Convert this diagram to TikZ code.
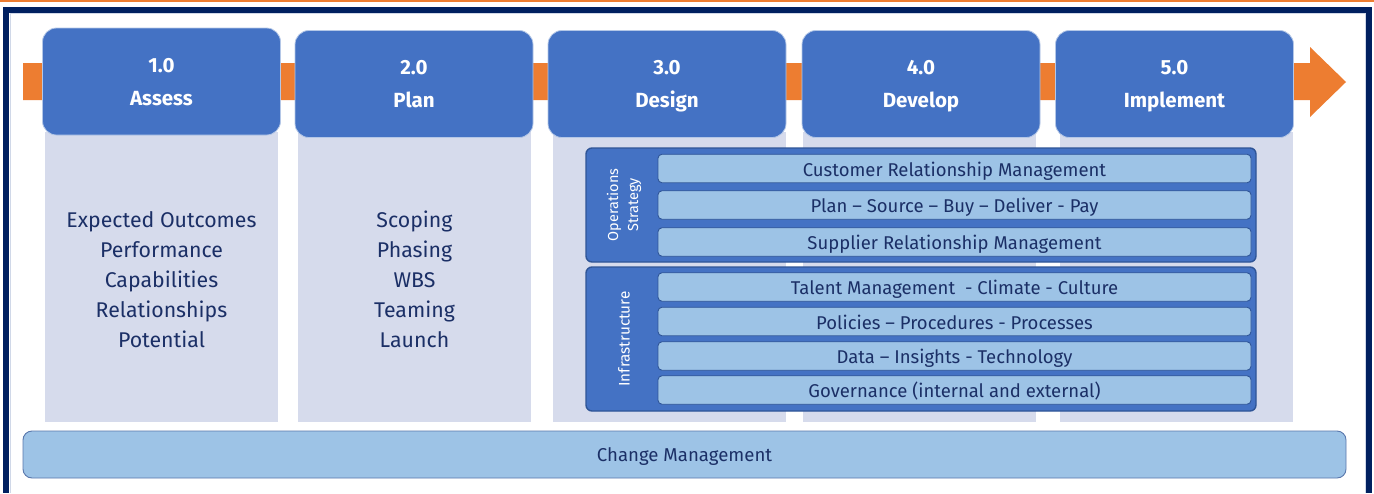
\documentclass[tikz,border=0pt]{standalone}
\usepackage{fontspec}
\setmainfont{Fira Sans}
\definecolor{hdrblue}{HTML}{4472C4}
\definecolor{hdrline}{HTML}{B4C7E7}
\definecolor{arroworange}{HTML}{ED7D31}
\definecolor{colgray}{HTML}{D6DBEC}
\definecolor{barblue}{HTML}{9DC3E6}
\definecolor{panelline}{HTML}{2F5597}
\definecolor{textnavy}{HTML}{1B2F66}
\definecolor{framenavy}{HTML}{002060}
\definecolor{innerline}{HTML}{D0D8E8}
\begin{document}
\begin{tikzpicture}[x=1pt,y=-1pt,
  hdr/.style={rectangle, rounded corners=14pt, fill=hdrblue, draw=hdrline, line width=0.8pt,
    minimum width=238pt, minimum height=107pt, text=white,
    font=\fontsize{20.5}{33}\selectfont\bfseries, align=center, inner sep=0pt, text depth=-2pt},
  colbox/.style={rectangle, fill=colgray, draw=none, minimum width=233pt, minimum height=290pt, inner sep=0pt},
  coltext/.style={text=textnavy, font=\fontsize{21.3}{30}\selectfont, align=center, inner sep=0pt},
  panel/.style={rectangle, rounded corners=6pt, fill=hdrblue, draw=panelline, line width=1.4pt,
    minimum width=670pt, inner sep=0pt},
  bar/.style={rectangle, rounded corners=4pt, fill=barblue, draw=panelline, line width=0.9pt,
    minimum width=593pt, minimum height=28.5pt, inner sep=0pt, text=textnavy,
    font=\fontsize{18.5}{20}\selectfont, text height=15.5pt, text depth=0pt},
  sidelbl/.style={rotate=90, text=white, align=center, inner sep=0pt},
  changebar/.style={rectangle, rounded corners=9pt, fill=barblue, draw=panelline!80!white, line width=0.9pt,
    minimum width=1323pt, minimum height=47pt, inner sep=0pt, text=textnavy,
    font=\fontsize{18.6}{20}\selectfont, text height=14pt, text depth=0pt},
]
\useasboundingbox (0,0) rectangle (1374,493);
% frame
\fill[white] (0,0) rectangle (1374,493);
\fill[arroworange] (0,0) rectangle (1374,1.6);
\fill[framenavy] (3,6.5) rectangle (1372,493);
\fill[white] (9.3,12.5) rectangle (1366,493);
\draw[innerline, line width=0.8pt] (10.2,493) -- (10.2,13.4) -- (1365.2,13.4) -- (1365.2,493);
% columns
\node[colbox] (c1) at (161.5,277) {};
\node[colbox] (c2) at (414.5,277) {};
\node[colbox] (c3) at (669,277) {};
\node[colbox] (c4) at (919.5,277) {};
\node[colbox] (c5) at (1176,277) {};
% orange arrow
\fill[arroworange] (23,63) -- (1310,63) -- (1310,47) -- (1346,82) -- (1310,117) -- (1310,100) -- (23,100) -- cycle;
% headers
\node[hdr] (h1) at (161.5,81.5) {1.0\\Assess};
\node[hdr] (h2) at (414,84) {2.0\\Plan};
\node[hdr] (h3) at (667,84) {3.0\\Design};
\node[hdr] (h4) at (921,84) {4.0\\Develop};
\node[hdr] (h5) at (1174.5,84) {5.0\\Implement};
% column texts
\node[coltext] (t1) at (161.5,279.5) {Expected Outcomes\\Performance\\Capabilities\\Relationships\\Potential};
\node[coltext] (t2) at (414.5,279) {Scoping\\Phasing\\WBS\\Teaming\\Launch};
% design panels
\node[panel, minimum height=114pt] (ops) at (921,205) {};
\node[panel, minimum height=144pt] (infra) at (921,339) {};
\node[sidelbl, font=\fontsize{14.5}{20}\selectfont] (opsl) at (624,205) {Operations\\Strategy};
\node[sidelbl, font=\fontsize{15.3}{18}\selectfont] (infral) at (624,339) {Infrastructure};
\node[bar] (b1) at (954.5,168.5) {Customer Relationship Management};
\node[bar] (b2) at (954.5,205) {Plan -- Source -- Buy -- Deliver - Pay};
\node[bar] (b3) at (954.5,242) {Supplier Relationship Management};
\node[bar] (b4) at (954.5,287) {Talent Management\ \ - Climate - Culture};
\node[bar] (b5) at (954.5,321.5) {Policies -- Procedures - Processes};
\node[bar] (b6) at (954.5,356) {Data -- Insights - Technology};
\node[bar] (b7) at (954.5,390) {Governance (internal and external)};
% change management
\node[changebar] (cm) at (684.5,454.5) {Change Management};
\end{tikzpicture}
\end{document}
